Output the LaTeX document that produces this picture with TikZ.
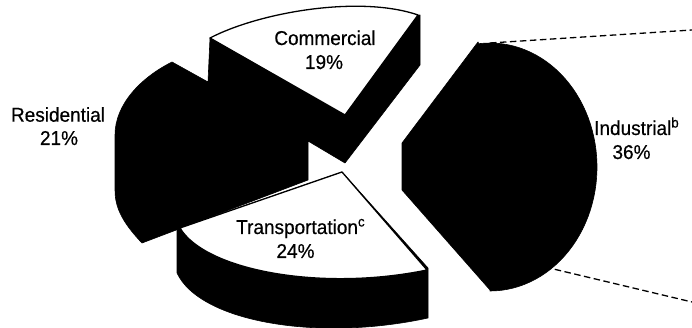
\documentclass[tikz,border=0pt]{standalone}
\usepackage{fontspec}
\setmainfont[FakeStretch=0.95,FakeBold=0.5]{Liberation Sans}
\begin{document}
\begin{tikzpicture}[x=1pt,y=-1pt,
  solid/.style={fill=black,draw=black,line width=0.6pt,line join=round},
  face/.style={fill=white,draw=black,line width=1.3pt,line join=round},
  lab/.style={inner sep=0pt,font=\fontsize{20}{24}\selectfont},
  zoomline/.style={draw=black,line width=1.3pt,dash pattern=on 6.5pt off 3.5pt}]
\useasboundingbox (0,0) rectangle (692,328);
% Residential + commercial side
\path[solid] (172,62) -- (208,82) -- (210,38) -- (420,15) -- (420,65) -- (345,163)
  -- (308,141) -- (308,180) -- (142,243)
  .. controls (120,220) and (115,205) .. (115,190) -- (115,135)
  .. controls (115,105) and (140,78) .. (172,62) -- cycle;
% Commercial top face
\path[face] (210,38) .. controls (260,12) and (360,-5) .. (418,15) -- (345,115) -- cycle;
% Transportation side
\path[solid] (180,228) -- (342,172) -- (428,268) -- (428,318)
  .. controls (318,342) and (200,322) .. (177,273) -- (177,230) -- cycle;
% Transportation top face
\path[face] (180,228) -- (342,172) -- (427,270)
  .. controls (320,292) and (205,270) .. (180,228) -- cycle;
% Industrial
\path[solid] (478,42) -- (402,143) -- (402,190) -- (490,290)
  -- plot[domain=90:-96,samples=60] ({490+107*cos(\x)},{167+124*sin(\x)}) -- cycle;
% zoom lines
\coordinate (indtop) at (490,43);
\coordinate (indbot) at (545,267);
\coordinate (edgetop) at (692,30);
\coordinate (edgebot) at (692,302);
\draw[zoomline] (indtop) -- (edgetop);
\draw[zoomline] (indbot) -- (edgebot);
% labels
\node[lab,anchor=base] (comname) at (325,45) {Commercial};
\node[lab,anchor=base] (compct) at (324,69) {19\%};
\node[lab,anchor=base] (resname) at (58,121.7) {Residential};
\node[lab,anchor=base] (respct) at (59,145) {21\%};
\node[lab,anchor=base west] (indname) at (594,135) {Industrial\textsuperscript{b}};
\node[lab,anchor=base] (indpct) at (631.5,159) {36\%};
\node[lab,anchor=base west] (traname) at (236,234) {Transportation\textsuperscript{c}};
\node[lab,anchor=base] (trapct) at (295.5,258) {24\%};
\end{tikzpicture}
\end{document}
